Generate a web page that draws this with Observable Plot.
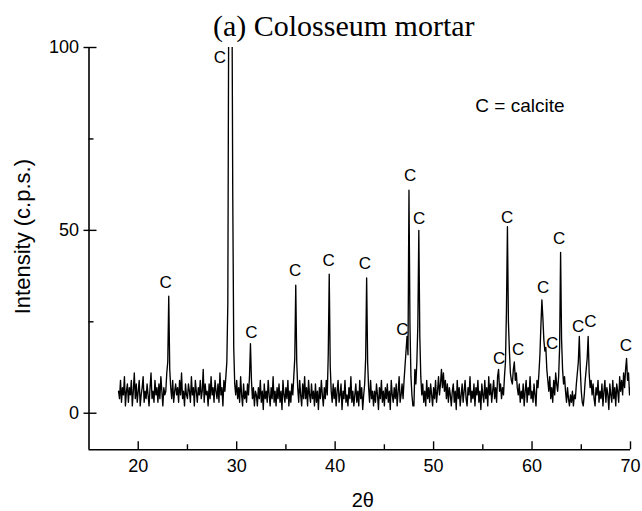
<!DOCTYPE html>
<html>
<head>
<meta charset="utf-8">
<script src="https://cdn.jsdelivr.net/npm/d3@7"></script>
<script src="https://cdn.jsdelivr.net/npm/@observablehq/plot@0.6"></script>
<style>
  body { margin: 0; background: #fff; }
  #chart { width: 642px; height: 511px; }
</style>
</head>
<body>
<div id="chart"></div>
<script>
// XRD scan: 2θ from 18.0° to 70.0° in 0.1° steps
const scanStart = 18.0;
const scanStep = 0.1;
const intensity = [
  6,4,9,3,7,5,10,2,6,8,        // 18
  3,7,5,9,2,6,11,4,8,3,        // 19
  6,9,2,5,7,10,3,6,4,8,        // 20
  5,2,7,11,4,6,3,9,5,7,        // 21
  3,8,4,10,6,2,7,5,6,11,       // 22
  14,32,12,7,4,9,3,6,8,5,      // 23
  7,3,9,5,11,4,6,2,8,5,        // 24
  4,8,6,3,10,5,7,2,9,6,        // 25
  3,7,5,9,4,6,12,3,8,5,        // 26
  6,2,8,4,10,5,7,3,9,6,        // 27
  4,8,3,11,5,7,2,9,6,10,       // 28
  14,30,120,190,170,130,60,18,8,5, // 29
  9,4,7,3,10,5,2,8,4,6,        // 30
  3,8,5,10,19,9,4,7,2,6,       // 31
  5,2,7,4,9,3,6,1,8,4,         // 32
  6,3,9,5,2,7,4,10,3,6,        // 33
  2,7,4,8,3,6,1,9,5,3,         // 34
  7,4,9,2,6,3,8,5,10,15,       // 35
  35,14,7,3,9,5,2,8,4,10,      // 36
  4,7,2,9,5,3,8,4,6,2,         // 37
  8,3,6,1,7,4,9,5,2,7,         // 38
  4,9,5,16,38,13,6,3,8,4,      // 39
  7,2,6,9,3,5,8,1,6,4,         // 40
  9,3,5,2,7,4,10,3,6,2,        // 41
  5,8,3,6,2,9,4,7,1,5,         // 42
  8,15,37,14,7,3,9,4,6,2,      // 43
  6,3,8,5,1,7,4,9,3,6,         // 44
  2,7,4,8,3,6,1,9,5,3,         // 45
  7,4,8,2,6,10,3,5,8,4,        // 46
  9,13,17,21,16,61,24,10,5,2,  // 47
  2,12,8,14,24,50,21,10,5,8,   // 48
  3,6,2,9,4,7,3,8,5,2,         // 49
  7,4,9,3,6,10,5,8,12,7,       // 50
  11,6,9,4,8,3,7,5,2,6,        // 51
  8,3,6,1,9,4,7,2,5,8,         // 52
  3,6,9,4,2,7,5,10,3,6,        // 53
  4,8,2,7,5,9,3,6,1,8,         // 54
  5,3,9,4,7,2,10,5,8,3,        // 55
  6,9,4,7,3,10,12,6,8,4,       // 56
  7,5,10,14,28,51,25,17,11,9,  // 57
  8,12,14,9,11,7,5,8,3,6,      // 58
  4,8,2,6,9,3,7,5,10,4,        // 59
  6,3,8,5,2,9,7,11,16,24,      // 60
  31,26,20,17,18,12,9,6,10,4,  // 61
  7,3,9,5,11,8,6,10,18,44,     // 62
  20,12,8,10,6,3,7,4,2,5,      // 63
  3,6,2,5,4,8,11,14,21,12,     // 64
  6,3,2,5,9,12,15,21,11,7,     // 65
  9,5,8,4,2,7,5,9,3,6,         // 66
  4,8,2,6,9,3,7,5,1,8,         // 67
  5,3,9,4,7,2,8,6,3,10,        // 68
  6,9,5,11,7,12,15,9,11,5,     // 69
  7                            // 70
];

// "C" (calcite) peak labels
const labelTheta     = [22.78, 28.3, 31.5, 35.94, 39.35, 43.03, 46.83, 47.62, 48.54, 56.65, 57.47, 58.58, 61.12, 62.05, 62.76, 64.68, 65.92, 69.52];
const labelIntensity = [35.6, 97.3, 22.0, 38.9, 41.7, 40.9, 22.9, 64.9, 53.1, 15.0, 53.5, 17.5, 34.5, 19.0, 47.7, 23.8, 25.0, 18.5];
const labelText = "C";

const xTickValues = [20, 30, 40, 50, 60, 70];
const xMinorTickValues = [25, 35, 45, 55, 65];
const yTickValues = [0, 50, 100];
const yMinorTickValues = [25, 75];

const titleText = "(a) Colosseum mortar";
const yTitle = "Intensity (c.p.s.)";
const xTitle = "2θ";
const legendText = "C = calcite";

const scan = intensity.map((v, i) => ({theta: +(scanStart + i * scanStep).toFixed(1), intensity: v}));
const peakLabels = labelTheta.map((t, i) => ({theta: t, intensity: labelIntensity[i]}));

const W = 642, H = 511;
const mL = 88.5, mR = 12, mT = 47, mB = 61.7;
const plotW = W - mL - mR, plotH = H - mT - mB;
const sans = "'Liberation Sans', Arial, Helvetica, sans-serif";

const chart = Plot.plot({
  width: W,
  height: H,
  marginLeft: mL,
  marginRight: mR,
  marginTop: mT,
  marginBottom: mB,
  style: {fontFamily: sans, fontSize: "18px", color: "#000", background: "#fff", overflow: "visible"},
  x: {domain: [15, 70]},
  y: {domain: [-10, 100]},
  marks: [
    Plot.line(scan, {x: "theta", y: "intensity", stroke: "#000", strokeWidth: 1.35, clip: true}),
    Plot.ruleX([15], {stroke: "#000", strokeWidth: 1.6}),
    Plot.ruleY([-10], {stroke: "#000", strokeWidth: 1.6}),
    Plot.ruleX(xTickValues, {stroke: "#000", strokeWidth: 1.4, insetTop: plotH - 8}),
    Plot.ruleX(xMinorTickValues, {stroke: "#000", strokeWidth: 1.4, insetTop: plotH - 5}),
    Plot.ruleY(yTickValues, {stroke: "#000", strokeWidth: 1.4, insetLeft: -5, insetRight: plotW - 8}),
    Plot.ruleY(yMinorTickValues, {stroke: "#000", strokeWidth: 1.4, insetRight: plotW - 5}),
    Plot.axisX(xTickValues, {tickSize: 0, tickPadding: 9, label: null, fontSize: 18}),
    Plot.axisY(yTickValues, {tickSize: 0, tickPadding: 10, label: null, fontSize: 18}),
    Plot.text(peakLabels, {x: "theta", y: "intensity", text: () => labelText, fontSize: 17, fill: "#000"}),
    Plot.text([titleText], {frameAnchor: "top", lineAnchor: "middle", dx: -16, dy: -21, fontFamily: "'Liberation Serif', 'Times New Roman', serif", fontSize: 30, fill: "#000"}),
    Plot.text([yTitle], {frameAnchor: "left", rotate: -90, textAnchor: "middle", lineAnchor: "middle", dx: -66.5, dy: -12, fontSize: 22, fill: "#000"}),
    Plot.text([xTitle], {frameAnchor: "bottom", lineAnchor: "middle", dx: 3, dy: 51, fontSize: 20, fill: "#000"}),
    Plot.text([legendText], {frameAnchor: "top-right", textAnchor: "end", lineAnchor: "middle", dx: -66, dy: 58, fontSize: 19, fill: "#000"})
  ]
});
document.getElementById("chart").appendChild(chart);
</script>
</body>
</html>
